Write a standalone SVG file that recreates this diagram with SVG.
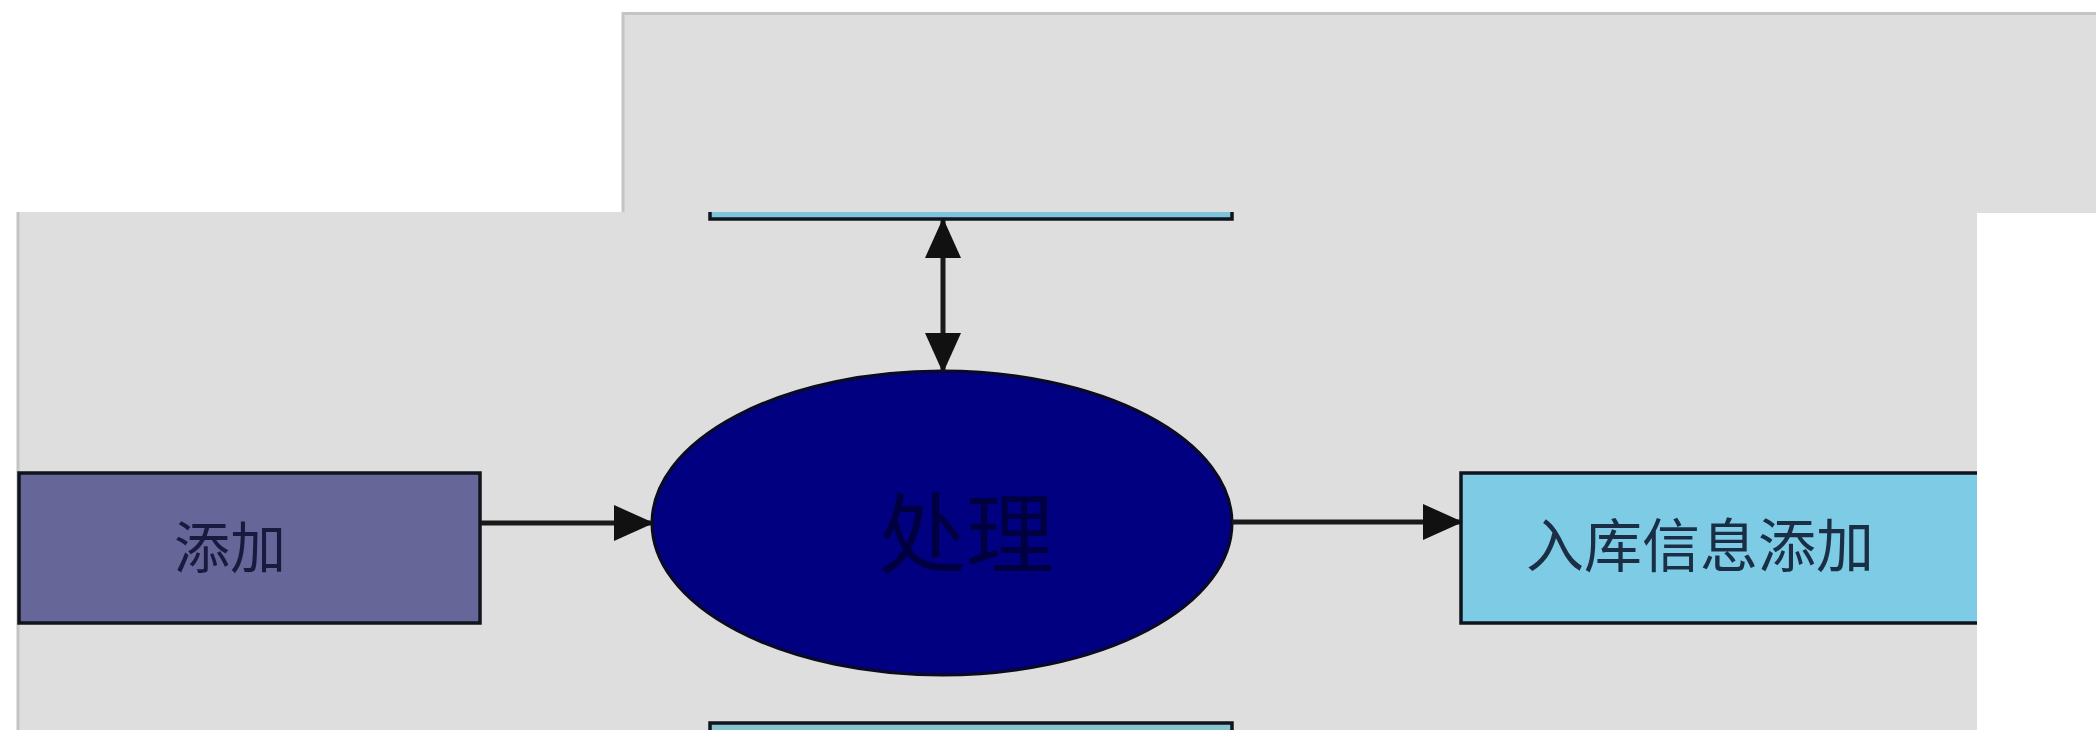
<svg xmlns="http://www.w3.org/2000/svg" width="2096" height="730" viewBox="0 0 2096 730">
  <style>
    .panel { fill: #dedede; }
    .edge { stroke: #c4c4c4; stroke-width: 3; fill: none; }
    .box { stroke: #10141c; stroke-width: 3.5; }
    .conn { stroke: #1a1a1a; stroke-width: 5; fill: none; }
    .lbl { font-family: "Noto Sans CJK SC", "Noto Sans", sans-serif; font-weight: 400; text-anchor: middle; dominant-baseline: central; }
  </style>
  <defs>
    <marker id="ah" markerUnits="userSpaceOnUse" markerWidth="40" markerHeight="36" refX="38" refY="18" orient="auto-start-reverse">
      <path d="M0,0 L40,18 L0,36 z" fill="#111"/>
    </marker>
    <clipPath id="mainclip">
      <rect x="17" y="212" width="1960" height="518"/>
    </clipPath>
  </defs>
  <rect width="2096" height="730" fill="#ffffff"/>
  <g id="top-panel">
    <rect class="panel" x="622" y="12" width="1474" height="201"/>
    <path class="edge" d="M623,213 L623,13.5 L2096,13.5"/>
  </g>
  <g id="main-panel">
    <rect class="panel" x="17" y="212" width="1960" height="518"/>
    <line class="edge" x1="18" y1="212" x2="18" y2="730" stroke-width="2"/>
  </g>
  <g clip-path="url(#mainclip)">
    <g id="node-top">
      <rect class="box" x="710" y="150" width="522" height="69" fill="#7ec4dc"/>
    </g>
    <g id="node-bottom">
      <rect class="box" x="710" y="723" width="522" height="60" fill="#84c4cc"/>
    </g>
    <g id="node-add">
      <rect class="box" x="19" y="473" width="461" height="150" fill="#676699"/>
      <text class="lbl" x="230" y="543" font-size="56" fill="#1a1a40">添加</text>
    </g>
    <g id="node-process">
      <ellipse cx="942" cy="523" rx="290" ry="152" fill="#000080" stroke="#0a0a20" stroke-width="3"/>
      <text class="lbl" x="966" y="527" font-size="88" fill="#000040">处理</text>
    </g>
    <g id="node-stock">
      <rect class="box" x="1461" y="473" width="560" height="150" fill="#7ecbe6"/>
      <text class="lbl" x="1700" y="542" font-size="58" fill="#1a2f45">入库信息添加</text>
    </g>
    <g id="connectors">
      <line class="conn" x1="481" y1="523" x2="652" y2="523" marker-end="url(#ah)"/>
      <line class="conn" x1="1232" y1="522" x2="1461" y2="522" marker-end="url(#ah)"/>
      <line class="conn" x1="943" y1="220" x2="943" y2="371" marker-start="url(#ah)" marker-end="url(#ah)"/>
    </g>
  </g>
</svg>
